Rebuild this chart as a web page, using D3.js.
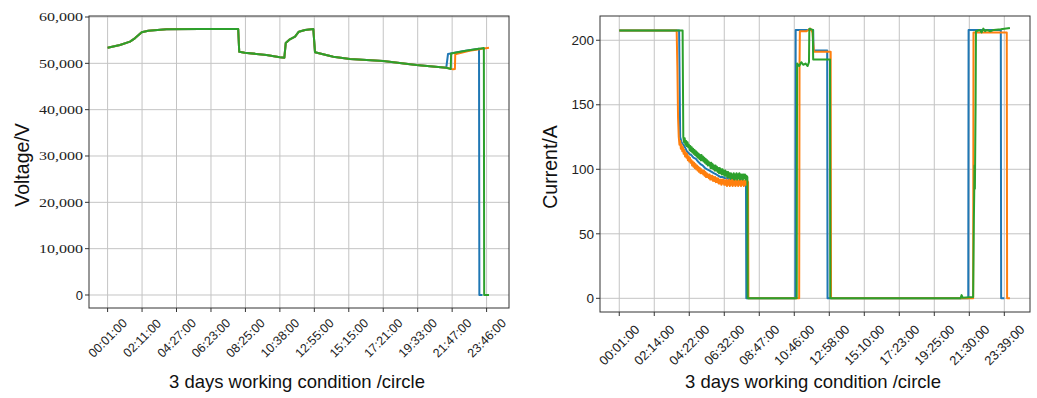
<!DOCTYPE html>
<html>
<head>
<meta charset="utf-8">
<script src="https://cdn.jsdelivr.net/npm/d3@7"></script>
<style>
  body { margin: 0; background: #fff; }
  svg { display: block; }
</style>
</head>
<body>
<svg id="chart" width="1037" height="398"></svg>
<script>
// tick labels (one every 100 samples)
var voltageTicks = ["00:01:00", "02:11:00", "04:27:00", "06:23:00", "08:25:00", "10:38:00",
    "12:55:00", "15:15:00", "17:21:00", "19:33:00", "21:47:00", "23:46:00"];
var currentTicks = ["00:01:00", "02:14:00", "04:22:00", "06:32:00", "08:47:00", "10:46:00",
    "12:58:00", "15:10:00", "17:23:00", "19:25:00", "21:30:00", "23:39:00"];
var voltageYTicks = [0, 10000, 20000, 30000, 40000, 50000, 60000];
var currentYTicks = [0, 50, 100, 150, 200];

// voltage, [sample, V]
var voltageShared = [[0, 53380], [36, 53960], [65, 54680], [79, 55400], [99, 56700], [118, 57050],
    [171, 57340], [268, 57400], [379, 57410], [382, 52500], [398, 52300], [461, 51800], [500, 51300],
    [513, 51220], [517, 54380], [529, 55190], [544, 55760], [555, 56830], [573, 57200], [597, 57410],
    [602, 52380], [655, 51440], [703, 50940], [800, 50500], [896, 49640], [983, 49060]];
var voltageBlue = [[988, 52020], [1030, 52600], [1078, 53160], [1079, 0], [1088, 0]];
var voltageOrange = [[1003, 48700], [1008, 48760], [1009, 51950], [1050, 52700], [1107, 53380]];
var voltageGreen = [[996, 48780], [997, 52100], [1040, 52700], [1092, 53300], [1093, 0], [1107, 0]];

// current, [sample, A]
var currentBlue = [[0, 207.5], [171, 207.5], [174, 125], [178, 121], [183, 119], [188, 117], [193, 114],
    [200, 112], [206, 111], [212, 109], [219, 108], [225, 106], [232, 104], [238, 103], [245, 101],
    [251, 100], [258, 99], [264, 98], [270, 97], [277, 96], [283, 95], [290, 94], [296, 94], [302, 93],
    [309, 93], [315, 92], [322, 93], [328, 92], [334, 93], [340, 96], [346, 92], [352, 93], [358, 94],
    [362, 93], [363, 0], [503, 0], [504, 208], [554, 208], [555, 192], [594, 192], [595, 0],
    [997, 0], [998, 208], [1090, 208], [1091, 0], [1100, 0]];
var currentOrange = [[0, 207.5], [164, 207.5], [166, 180], [168, 140], [170, 125], [172, 119], [174, 122],
    [176, 116], [178, 119], [180, 114], [182, 117], [184, 112], [186, 115], [188, 110], [190, 113],
    [192, 109], [194, 112], [196, 107], [198, 110], [200, 106], [202, 109], [204, 105], [206, 107],
    [208, 103], [210, 106], [212, 102], [214, 105], [216, 101], [218, 104], [220, 100], [222, 103],
    [224, 99], [226, 102], [228, 98], [230, 101], [232, 97], [234, 100], [236, 97], [238, 99], [240, 96],
    [242, 99], [244, 95], [246, 98], [248, 94], [250, 97], [252, 94], [254, 96], [256, 93], [258, 96],
    [260, 92], [262, 95], [264, 92], [266, 95], [268, 91], [270, 94], [272, 91], [274, 94], [276, 90],
    [278, 93], [280, 90], [282, 93], [284, 89], [286, 92], [288, 89], [290, 92], [292, 88], [294, 92],
    [296, 89], [298, 92], [300, 88], [302, 91], [304, 88], [306, 92], [308, 87], [310, 91], [312, 88],
    [314, 92], [316, 87], [318, 91], [320, 88], [322, 92], [324, 87], [326, 91], [328, 88], [330, 92],
    [332, 87], [334, 91], [336, 88], [338, 92], [340, 87], [342, 91], [344, 88], [346, 92], [348, 87],
    [350, 91], [352, 88], [354, 92], [356, 87], [358, 91], [360, 88], [362, 92], [364, 88], [366, 91],
    [368, 90], [369, 0], [514, 0], [515, 180], [516, 207], [535, 207], [546, 209], [552, 206],
    [556, 191], [604, 191], [605, 0], [1011, 0], [1012, 206], [1107, 206], [1108, 0], [1116, 0]];
var currentGreen = [[0, 207.5], [181, 207.5], [183, 125], [185, 121], [187, 124], [189, 119], [191, 122],
    [193, 118], [195, 121], [197, 117], [199, 119], [201, 115], [203, 118], [205, 114], [207, 117],
    [209, 113], [211, 116], [213, 112], [215, 115], [217, 111], [219, 114], [221, 110], [223, 113],
    [225, 109], [227, 112], [229, 108], [231, 111], [233, 107], [235, 111], [237, 107], [239, 110],
    [241, 106], [243, 109], [245, 105], [247, 108], [249, 104], [251, 107], [253, 103], [255, 106],
    [257, 103], [259, 105], [261, 101], [263, 105], [265, 101], [267, 104], [269, 100], [271, 103],
    [273, 99], [275, 103], [277, 99], [279, 102], [281, 98], [283, 101], [285, 97], [287, 101], [289, 97],
    [291, 100], [293, 96], [295, 100], [297, 96], [299, 99], [301, 95], [303, 99], [305, 95], [307, 98],
    [309, 94], [311, 98], [313, 94], [315, 97], [317, 93], [319, 97], [321, 93], [323, 96], [325, 93],
    [327, 97], [329, 92], [331, 96], [333, 93], [335, 97], [337, 92], [339, 96], [341, 93], [343, 97],
    [345, 92], [347, 96], [349, 93], [351, 96], [353, 92], [355, 96], [357, 93], [359, 96], [361, 92],
    [363, 95], [366, 94],
    [367, 0], [507, 0], [508, 182], [514, 180], [520, 183], [526, 181], [532, 182], [538, 180], [542, 183],
    [543, 209], [553, 208], [554, 185], [602, 185], [603, 0], [975, 0], [978, 2.5], [981, 0.5],
    [1011, 1], [1013, 60], [1014, 80], [1015, 103], [1016, 85], [1018, 150], [1019, 207], [1030, 208],
    [1035, 206], [1040, 209], [1045, 207], [1050, 208], [1060, 207], [1070, 208], [1090, 208.5],
    [1116, 209.5]];

var colors = ["#1f77b4", "#ff7f0e", "#2ca02c"];
var svg = d3.select("#chart");

function drawPanel(opt) {
    var x = d3.scaleLinear().domain(opt.xDomain).range([opt.left, opt.right]);
    var y = d3.scaleLinear().domain(opt.yDomain).range([opt.bottom, opt.top]);
    var g = svg.append("g");
    var tickIdx = opt.xLabels.map(function (d, i) { return i * 100; });

    // grid
    g.selectAll(".vgrid").data(tickIdx).enter().append("line")
        .attr("x1", function (d) { return x(d); }).attr("x2", function (d) { return x(d); })
        .attr("y1", opt.top).attr("y2", opt.bottom)
        .attr("stroke", "#c4c4c4").attr("stroke-width", 1);
    g.selectAll(".hgrid").data(opt.yTicks).enter().append("line")
        .attr("x1", opt.left).attr("x2", opt.right)
        .attr("y1", function (d) { return y(d); }).attr("y2", function (d) { return y(d); })
        .attr("stroke", "#c4c4c4").attr("stroke-width", 1);

    // lines
    var line = d3.line()
        .x(function (d) { return x(d[0]); })
        .y(function (d) { return y(d[1]); });
    opt.series.forEach(function (s, i) {
        g.append("path")
            .attr("d", line(s))
            .attr("fill", "none")
            .attr("stroke", colors[i])
            .attr("stroke-width", 2)
            .attr("stroke-linejoin", "round");
    });

    // frame
    g.append("rect")
        .attr("x", opt.left).attr("y", opt.top)
        .attr("width", opt.right - opt.left).attr("height", opt.bottom - opt.top)
        .attr("fill", "none").attr("stroke", "#333").attr("stroke-width", 1);

    // x ticks
    g.selectAll(".xt").data(tickIdx).enter().append("line")
        .attr("x1", function (d) { return x(d); }).attr("x2", function (d) { return x(d); })
        .attr("y1", opt.bottom).attr("y2", opt.bottom + 4)
        .attr("stroke", "#333");
    g.selectAll(".xl").data(opt.xLabels).enter().append("text")
        .attr("transform", function (d, i) {
            return "translate(" + x(i * 100) + "," + (opt.bottom + opt.labelDrop) + ") rotate(-45)";
        })
        .attr("text-anchor", "middle")
        .attr("dy", "0.35em")
        .attr("font-family", "Liberation Sans, Arial, sans-serif")
        .attr("font-size", opt.xLabelSize)
        .attr("fill", "#222")
        .text(function (d) { return d; });

    // y ticks
    g.selectAll(".yt").data(opt.yTicks).enter().append("line")
        .attr("x1", opt.left - 4).attr("x2", opt.left)
        .attr("y1", function (d) { return y(d); }).attr("y2", function (d) { return y(d); })
        .attr("stroke", "#333");
    var yl = g.selectAll(".yl").data(opt.yTicks).enter().append("text")
        .attr("x", opt.left - 6)
        .attr("y", function (d) { return y(d); })
        .attr("dy", "0.35em")
        .attr("text-anchor", "end")
        .attr("fill", "#222")
        .text(opt.yFormat);
    opt.styleY(yl);

    // titles
    g.append("text")
        .attr("x", (opt.left + opt.right) / 2 - 2)
        .attr("y", 388)
        .attr("text-anchor", "middle")
        .attr("font-family", "Liberation Sans, Arial, sans-serif")
        .attr("font-size", 18.5)
        .attr("fill", "#111")
        .text("3 days working condition /circle");
    g.append("text")
        .attr("transform", "translate(" + opt.yTitleX + "," + ((opt.top + opt.bottom) / 2 + 3) + ") rotate(-90)")
        .attr("text-anchor", "middle")
        .attr("font-family", "Liberation Sans, Arial, sans-serif")
        .attr("font-size", 19.5)
        .attr("fill", "#111")
        .text(opt.yTitle);
}

drawPanel({
    left: 89, right: 509, top: 16, bottom: 308,
    xDomain: [-54, 1165], yDomain: [-2806, 60216],
    xLabels: voltageTicks, yTicks: voltageYTicks,
    series: [voltageShared.concat(voltageBlue), voltageShared.concat(voltageOrange), voltageShared.concat(voltageGreen)],
    labelDrop: 30, xLabelSize: 12.5,
    yFormat: function (d) { return d === 0 ? "0" : d3.format(",")(d); },
    styleY: function (sel) {
        sel.attr("font-family", function (d) { return d === 0 ? "Liberation Sans, sans-serif" : "Liberation Serif, serif"; })
            .attr("font-size", function (d) { return d === 0 ? 13 : 12; })
            .attr("textLength", function (d) { return d === 0 ? null : 44; })
            .attr("lengthAdjust", "spacingAndGlyphs");
    },
    yTitle: "Voltage/V", yTitleX: 29
});

drawPanel({
    left: 600, right: 1030, top: 16, bottom: 312,
    xDomain: [-55, 1173.4], yDomain: [-10.6, 218.8],
    xLabels: currentTicks, yTicks: currentYTicks,
    series: [currentBlue, currentOrange, currentGreen],
    labelDrop: 33, xLabelSize: 13,
    yFormat: function (d) { return String(d); },
    styleY: function (sel) {
        sel.attr("font-family", "Liberation Sans, Arial, sans-serif").attr("font-size", 13.5);
    },
    yTitle: "Current/A", yTitleX: 557
});
</script>
</body>
</html>
